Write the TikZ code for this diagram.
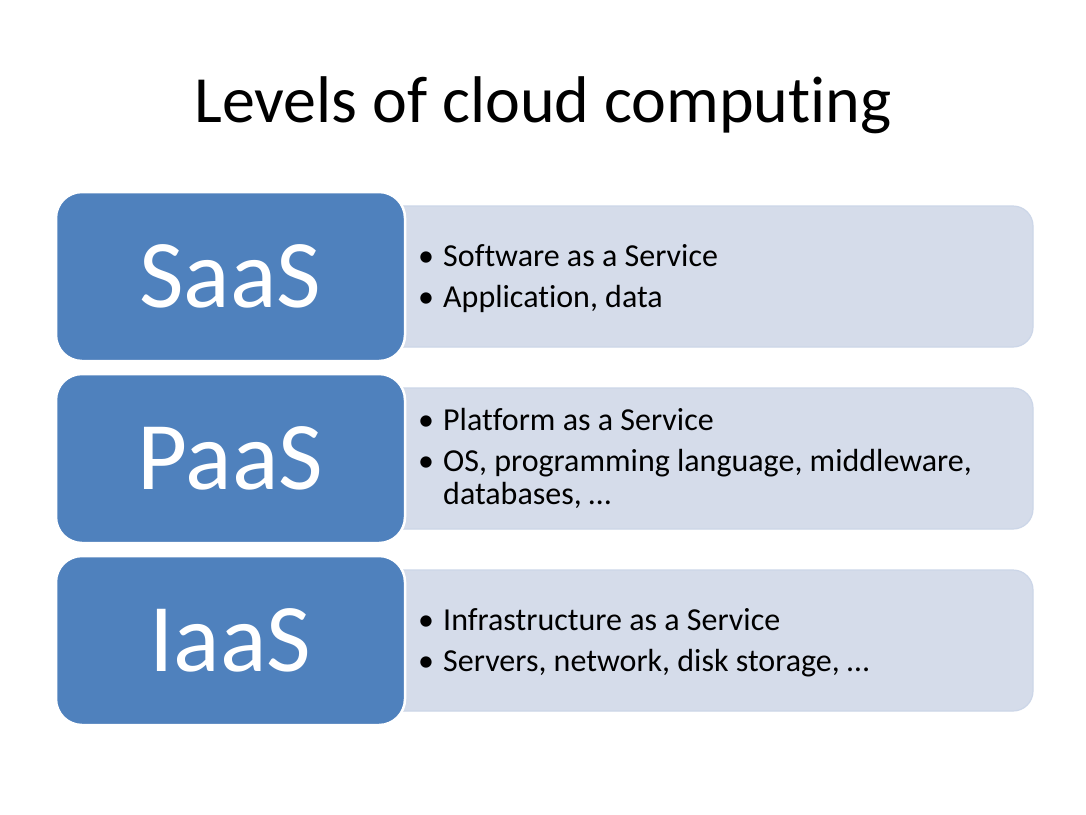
\documentclass[tikz,border=0pt]{standalone}
\usepackage{fontspec}
\setmainfont{Carlito}[Ligatures={NoCommon},Contextuals={NoAlternate}]
\definecolor{blueA}{HTML}{4F81BD}
\definecolor{lightA}{HTML}{D5DCEA}
\definecolor{lightB}{HTML}{CCD6E8}
\begin{document}
\begin{tikzpicture}[x=1pt,y=-1pt,
  lightbox/.style={fill=lightA,draw=lightB,line width=1.2pt,rounded corners=20pt},
  bluebox/.style={fill=blueA,draw=white,line width=2.5pt,rounded corners=26pt},
  big/.style={text=white,font=\fontsize{97}{100}\selectfont,anchor=center},
  item/.style={anchor=base west,font=\fontsize{32}{33}\selectfont,inner sep=0pt}]
\useasboundingbox (0,0) rectangle (1086,814);
\fill[white] (0,0) rectangle (1086,814);
\node[font=\fontsize{66}{70}\selectfont,anchor=base] (title) at (543,122) {Levels of cloud computing};
% light boxes
\draw[lightbox] (380,206) rectangle (1033,347);
\draw[lightbox] (380,388) rectangle (1033,529);
\draw[lightbox] (380,570) rectangle (1033,711);
% blue boxes
\draw[bluebox] (56,192) rectangle (405,361);
\draw[bluebox] (56,374) rectangle (405,543);
\draw[bluebox] (56,556) rectangle (405,725);
\node[big] (saas) at (230.5,276.5) {SaaS};
\node[big] (paas) at (230.5,458.5) {PaaS};
\node[big] (iaas) at (230.5,640.5) {IaaS};
\newcommand{\bul}{\makebox[25pt][l]{•}}
\node[item] (s1) at (418,266) {\bul Software as a Service};
\node[item] (s2) at (418,307) {\bul Application, data};
\node[item] (p1) at (418,430) {\bul Platform as a Service};
\node[item] (p2) at (418,471) {\parbox[t]{600pt}{\raggedright\bul OS, programming language, middleware,\\\hspace*{25pt}databases, …}};
\node[item] (i1) at (418,630) {\bul Infrastructure as a Service};
\node[item] (i2) at (418,671) {\bul Servers, network, disk storage, …};
\end{tikzpicture}
\end{document}
